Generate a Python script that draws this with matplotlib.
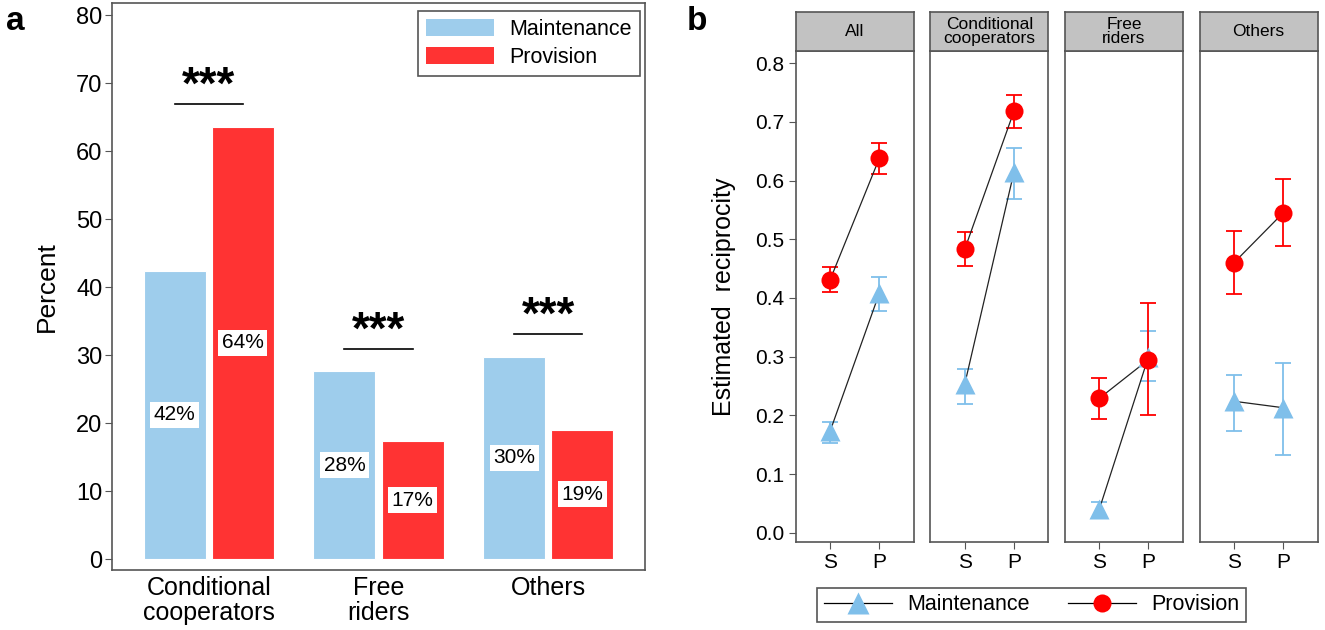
import numpy as np
import matplotlib
matplotlib.use("Agg")
import matplotlib.pyplot as plt
from matplotlib.patches import Patch
from matplotlib.lines import Line2D

plt.rcParams["font.family"] = ["Liberation Sans", "DejaVu Sans"]

# panel a: share of each player type
types = ["Conditional\ncooperators", "Free\nriders", "Others"]
pct_maintenance = [42.4, 27.6, 29.8]
pct_provision = [63.6, 17.35, 19.06]
stars = ["***", "***", "***"]

# panel b: estimated reciprocity by group, S/P treatments
groups = ["All", "Conditional\ncooperators", "Free\nriders", "Others"]
treatments = ["S", "P"]
maint_mean = [[0.173, 0.408], [0.253, 0.614], [0.040, 0.300], [0.224, 0.213]]
maint_lo = [[0.153, 0.377], [0.220, 0.569], [0.025, 0.258], [0.174, 0.133]]
maint_hi = [[0.188, 0.436], [0.279, 0.655], [0.052, 0.343], [0.269, 0.290]]
prov_mean = [[0.431, 0.638], [0.483, 0.718], [0.229, 0.295], [0.460, 0.545]]
prov_lo = [[0.410, 0.611], [0.455, 0.689], [0.194, 0.201], [0.407, 0.488]]
prov_hi = [[0.453, 0.664], [0.513, 0.746], [0.263, 0.391], [0.514, 0.602]]

BLUE_BAR = "#9ecdec"
RED_BAR = "#ff3333"
BLUE_PT = "#7fbfea"
RED_PT = "#ff0000"
FRAME = "#555555"

W, H = 1325, 630
fig = plt.figure(figsize=(W / 100, H / 100), dpi=100)


def box(x0, y0, x1, y1):
    # pixel box (top-left origin) -> figure fraction rect
    return [x0 / W, 1 - y1 / H, (x1 - x0) / W, (y1 - y0) / H]


def fpt(x, y):
    # pixel point (top-left origin) -> figure fraction
    return (x / W, 1 - y / H)


# ---------- panel a ----------
ax = fig.add_axes(box(112, 3, 645, 570))
x = np.arange(len(types))
bw = 0.3645
off = 0.201
ax.bar(x - off, pct_maintenance, bw, color=BLUE_BAR, edgecolor="white", linewidth=0.8)
ax.bar(x + off, pct_provision, bw, color=RED_BAR, edgecolor="white", linewidth=0.8)

for xi, (m, p) in enumerate(zip(pct_maintenance, pct_provision)):
    for xx, v in ((xi - off, m), (xi + off, p)):
        ax.text(xx, v / 2, f"{int(v + 0.5)}%", ha="center", va="center", fontsize=15,
                bbox=dict(facecolor="white", edgecolor="none", pad=2.5))
    top = max(m, p) + 3.3
    ax.plot([xi - off, xi + off], [top, top], color="black", lw=1.2)
    ax.text(xi, top + 2.6, stars[xi], ha="center", va="center", fontsize=33,
            fontweight="bold")

ax.set_xlim(-0.57, 2.57)
ax.set_ylim(-1.6, 81.8)
ax.set_yticks(range(0, 81, 10))
ax.set_xticks(x)
ax.set_xticklabels(types, fontsize=18, linespacing=1.05)
ax.tick_params(axis="y", labelsize=17, length=5, color=FRAME, pad=2)
ax.tick_params(axis="x", length=0, pad=4)
ax.set_ylabel("Percent", fontsize=19, labelpad=12)
for s in ax.spines.values():
    s.set_color(FRAME)
    s.set_linewidth(1.2)

leg = ax.legend(handles=[Patch(facecolor=BLUE_BAR, label="Maintenance"),
                         Patch(facecolor=RED_BAR, label="Provision")],
                loc="upper right", bbox_to_anchor=fpt(640, 10.7),
                bbox_transform=fig.transFigure, borderaxespad=0, fontsize=15.5,
                fancybox=False, framealpha=1, handlelength=3.16, handleheight=0.8,
                borderpad=0.38, labelspacing=0.32, handletextpad=0.7)
leg.get_frame().set_edgecolor(FRAME)
leg.get_frame().set_linewidth(1.2)

fig.text(15 / W, 1 - 22 / H, "a", fontsize=24, fontweight="bold", ha="center", va="center")

# ---------- panel b ----------
left0, pw, step = 795.7, 118, 134.6
top_strip, top_panel, bottom_panel = 12.3, 51, 542.3
for i, g in enumerate(groups):
    x0 = left0 + i * step
    axb = fig.add_axes(box(x0, top_panel, x0 + pw, bottom_panel))
    xs = np.arange(1, len(treatments) + 1)

    for mean, lo, hi, col, mk, ms in (
        (maint_mean[i], maint_lo[i], maint_hi[i], BLUE_PT, "^", 14),
        (prov_mean[i], prov_lo[i], prov_hi[i], RED_PT, "o", 13),
    ):
        mean = np.array(mean)
        yerr = [mean - np.array(lo), np.array(hi) - mean]
        axb.errorbar(xs, mean, yerr=yerr, fmt="none", ecolor=col, elinewidth=1.3,
                     capsize=6, capthick=1.3, zorder=2)
        axb.plot(xs, mean, color="#222222", lw=0.9, zorder=3)
        axb.plot(xs, mean, ls="none", marker=mk, ms=ms, color=col, mec="none", zorder=4)

    axb.set_xlim(0.3, 2.7)
    axb.set_ylim(-0.0164, 0.821)
    axb.set_xticks(xs)
    axb.set_xticklabels(treatments, fontsize=15)
    axb.set_yticks(np.arange(0, 0.81, 0.1))
    axb.tick_params(length=5, color=FRAME, pad=3, labelsize=15)
    if i == 0:
        axb.set_yticklabels([f"{v:.1f}" for v in np.arange(0, 0.81, 0.1)])
        axb.set_ylabel("Estimated  reciprocity", fontsize=18, labelpad=14)
    else:
        axb.tick_params(axis="y", left=False, labelleft=False)
    for s in axb.spines.values():
        s.set_color(FRAME)
        s.set_linewidth(1.2)

    # facet strip
    st = fig.add_axes(box(x0, top_strip, x0 + pw, top_panel))
    st.set_facecolor("#c2c2c2")
    st.set_xticks([])
    st.set_yticks([])
    for s in st.spines.values():
        s.set_color(FRAME)
        s.set_linewidth(1.2)
    st.text(0.5, 0.5, g, ha="center", va="center", fontsize=12.5, linespacing=0.95,
            transform=st.transAxes)

handles_b = [
    Line2D([], [], color="black", lw=0.9, marker="^", ms=16, mfc=BLUE_PT, mec="none",
           label="Maintenance"),
    Line2D([], [], color="black", lw=0.9, marker="o", ms=13, mfc=RED_PT, mec="none",
           label="Provision"),
]
leg_b = fig.legend(handles=handles_b, loc="center", ncol=2,
                   bbox_to_anchor=fpt(1031.5, 605), fontsize=15.5, fancybox=False,
                   framealpha=1, handlelength=3.16, columnspacing=1.8, handletextpad=0.7,
                   borderpad=0.3)
leg_b.get_frame().set_edgecolor(FRAME)
leg_b.get_frame().set_linewidth(1.2)

fig.text(697 / W, 1 - 22 / H, "b", fontsize=24, fontweight="bold", ha="center", va="center")

fig.savefig("out.png", dpi=100)
